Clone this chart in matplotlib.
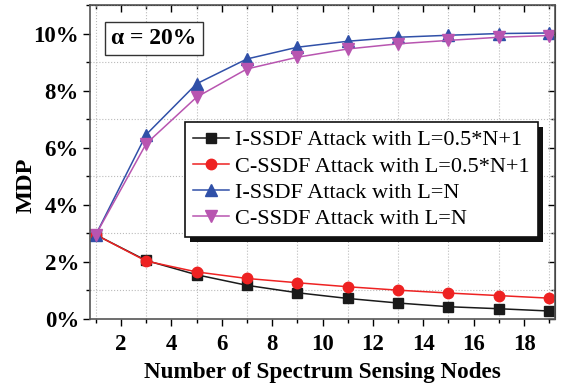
import numpy as np
import matplotlib
matplotlib.use('Agg')
import matplotlib.pyplot as plt
from matplotlib.patches import Rectangle
from matplotlib.transforms import IdentityTransform
from matplotlib.ticker import MultipleLocator, FuncFormatter

plt.rcParams['font.family'] = ['Liberation Serif', 'DejaVu Serif']

# data (MDP in %)
nodes = [1, 3, 5, 7, 9, 11, 13, 15, 17, 19]
i_half = [2.95, 2.05, 1.55, 1.18, 0.92, 0.72, 0.56, 0.43, 0.36, 0.28]
c_half = [2.95, 2.03, 1.65, 1.42, 1.27, 1.13, 1.01, 0.91, 0.82, 0.73]
i_full = [2.95, 6.46, 8.24, 9.11, 9.52, 9.73, 9.87, 9.94, 10.0, 10.02]
c_full = [2.95, 6.14, 7.77, 8.76, 9.17, 9.46, 9.64, 9.76, 9.87, 9.93]

labels = ['I-SSDF Attack with L=0.5*N+1', 'C-SSDF Attack with L=0.5*N+1',
          'I-SSDF Attack with L=N', 'C-SSDF Attack with L=N']

fig = plt.figure(figsize=(5.61, 3.89), dpi=100)
ax = fig.add_axes([90 / 561, 1 - 319 / 389, 465 / 561, 314 / 389])

ax.plot(nodes, i_half, color='#1a1a1a', marker='s', ms=7, lw=1.1, label=labels[0])
ax.plot(nodes, c_half, color='#ee2222', marker='o', ms=7.5, lw=1.1, label=labels[1])
ax.plot(nodes, i_full, color='#3050a8', marker='^', ms=8, lw=1.1, label=labels[2])
ax.plot(nodes, c_full, color='#b855b0', marker='v', ms=8, lw=1.1, label=labels[3])

ax.set_xlim(0.77, 19.23)
ax.set_ylim(0, 11)
ax.xaxis.set_major_locator(MultipleLocator(2))
ax.xaxis.set_minor_locator(MultipleLocator(1))
ax.yaxis.set_major_locator(MultipleLocator(2))
ax.yaxis.set_minor_locator(MultipleLocator(1))
ax.yaxis.set_major_formatter(FuncFormatter(lambda v, p: '%d%%' % v))

# grid only on the odd (minor) positions
ax.grid(True, which='minor', linestyle=':', color='#bbbbbb', lw=0.8)
ax.grid(False, which='major')

ax.tick_params(which='both', direction='out', top=False, right=False, width=1)
ax.tick_params(which='major', length=5, labelsize=16.5)
ax.tick_params(axis='x', which='major', pad=6)
ax.tick_params(axis='y', which='major', pad=3)
ax.tick_params(which='minor', length=3)
for lab in ax.get_xticklabels() + ax.get_yticklabels():
    lab.set_fontweight('bold')
# inward ticks on top and right
ax2 = ax.secondary_xaxis('top')
ax2.xaxis.set_major_locator(MultipleLocator(2))
ax2.xaxis.set_minor_locator(MultipleLocator(1))
ax2.tick_params(which='both', direction='in', labeltop=False, width=1)
ax2.tick_params(which='major', length=5)
ax2.tick_params(which='minor', length=3)
ax3 = ax.secondary_yaxis('right')
ax3.yaxis.set_major_locator(MultipleLocator(2))
ax3.yaxis.set_minor_locator(MultipleLocator(1))
ax3.tick_params(which='both', direction='in', labelright=False, width=1)
ax3.tick_params(which='major', length=5)
ax3.tick_params(which='minor', length=3)

for sp in ax.spines.values():
    sp.set_color('#555555')
    sp.set_linewidth(1.2)

ax.set_xlabel('Number of Spectrum Sensing Nodes', fontsize=16.7, fontweight='bold', labelpad=5)
ax.set_ylabel('MDP', fontsize=17.5, fontweight='bold')
ax.yaxis.set_label_coords(-0.114, 0.427)

ax.text(0.046, 0.928, '\u03b1 = 20%', transform=ax.transAxes, fontsize=17,
        fontweight='bold', va='top', ha='left',
        bbox=dict(boxstyle='square,pad=0.25', fc='white', ec='#333333', lw=1))

leg = ax.legend(loc='upper right', bbox_to_anchor=(0.963, 0.627), borderaxespad=0,
                fontsize=16, fancybox=False, framealpha=1, edgecolor='#111111',
                handlelength=1.6, handletextpad=0.3, labelspacing=0.25,
                borderpad=0.35)
leg.get_frame().set_linewidth(1.2)
leg.set_zorder(6)

# solid black drop shadow behind the legend
fig.canvas.draw()
bb = leg.get_frame().get_window_extent()
ax.add_patch(Rectangle((bb.x0 + 5, bb.y0 - 5), bb.width, bb.height,
                       transform=IdentityTransform(), facecolor='#111111',
                       edgecolor='none', clip_on=False, zorder=5.5))

fig.savefig('out.png', dpi=100)
